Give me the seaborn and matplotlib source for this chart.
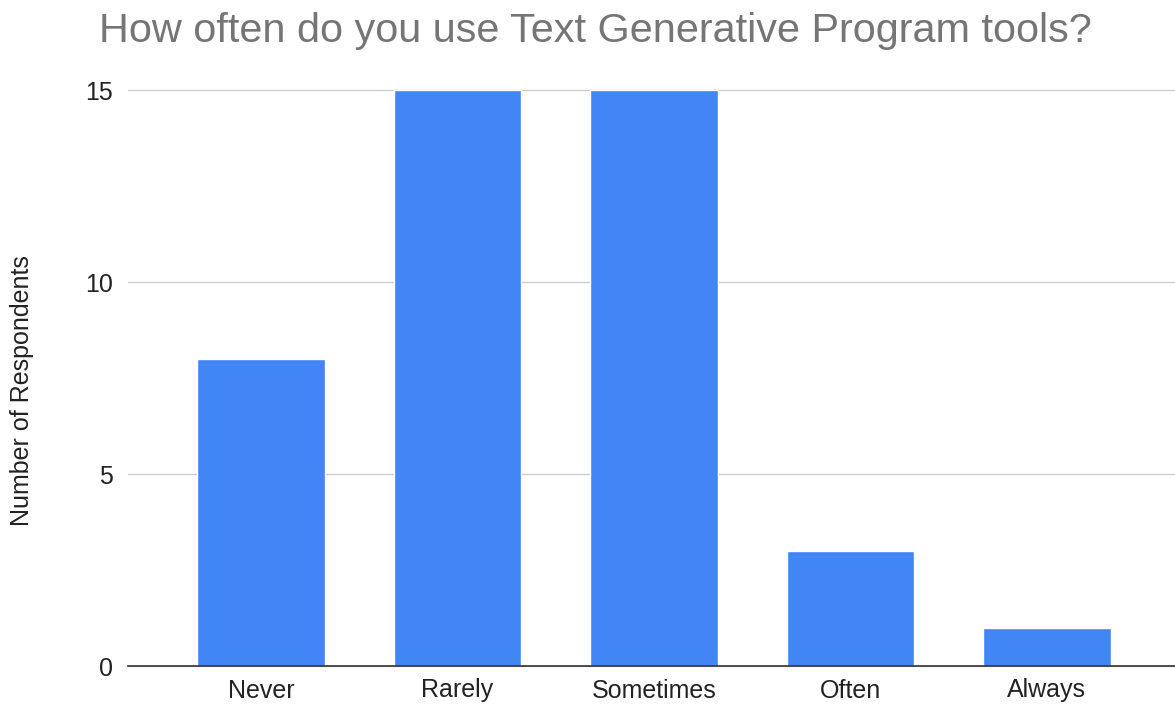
import matplotlib
matplotlib.use("Agg")
import matplotlib.pyplot as plt
import seaborn as sns
import pandas as pd

categories = ["Never", "Rarely", "Sometimes", "Often", "Always"]
respondents = [8, 15, 15, 3, 1]
yticks = [0, 5, 10, 15]

df = pd.DataFrame({"Frequency": categories, "Respondents": respondents})

sns.set_style("white")
plt.rcParams['font.family'] = ['Arial', 'Liberation Sans', 'DejaVu Sans']

W, H = 1175, 707
fig = plt.figure(figsize=(W / 100, H / 100), dpi=100)
ax = fig.add_axes([128/W, 41/H, 1047/W, 576/H])

sns.barplot(data=df, x="Frequency", y="Respondents", color="#4285F4",
            saturation=1, width=0.65, ax=ax, zorder=3)

ax.set_xlim(-0.678, 4.653)
ax.set_ylim(0, 15)
ax.set_yticks(yticks)
ax.set_yticklabels([str(t) for t in yticks], fontsize=18, color="#222222")
ax.tick_params(axis="x", labelsize=18, labelcolor="#222222", length=0, pad=9)
ax.tick_params(axis="y", length=0, pad=11)
ax.grid(axis="y", color="#cccccc", linewidth=1, zorder=0, clip_on=False)
for s in ["top", "right", "left"]:
    ax.spines[s].set_visible(False)
ax.spines["bottom"].set_color("#333333")
ax.spines["bottom"].set_linewidth(1.2)
ax.spines["bottom"].set_zorder(4)

ax.set_xlabel("")
ax.set_ylabel("")
fig.text(22/W, 1 - 391/H, "Number of Respondents", rotation=90,
         ha="center", va="center", fontsize=18, color="#222222")
fig.text(595/W, 1 - 31/H, "How often do you use Text Generative Program tools?",
         ha="center", va="center", fontsize=29.8, color="#757575")

fig.savefig("out.png", dpi=100)
